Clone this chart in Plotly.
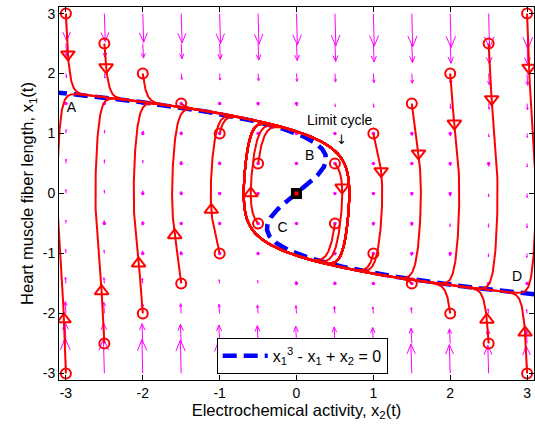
import numpy as np
import plotly.graph_objects as go

# ---- Zeeman-type heartbeat model ----------------------------------------
#   eps * dx1/dt = -(x1^3 - T*x1 + x2)
#         dx2/dt = x1 - x1_rest
EPS = 0.18
TENSION = 1.0
X1_REST = 0.0
T_END = 6.0
DT = 0.001
SAVE_EVERY = 2

# starting points lie on the two diagonals |x2| = |x1|
start_offsets = [0.5, 1.0, 1.5, 2.0, 2.5, 3.0]

# direction-field grid (same for both axes)
grid_vals = [-3.0, -2.5, -2.0, -1.5, -1.0, -0.5, 0.0, 0.5, 1.0, 1.5, 2.0, 2.5, 3.0]

# axis ticks
tick_vals = [-3, -2, -1, 0, 1, 2, 3]
tick_text = ["-3", "-2", "-1", "0", "1", "2", "3"]

# direction markers: trajectory start (x2, x1) and the x1 level where the marker sits
marker_start_x2 = [-3.0, -2.5, 3.0, 2.5, 2.0, 1.5, 1.0, 0.5, -0.5, -3.0, -2.5, -2.0, -1.5, -1.0, 3.0, 2.5]
marker_start_x1 = [3.0, 2.5, 3.0, 2.5, 2.0, 1.5, 1.0, 0.5, -0.5, -3.0, -2.5, -2.0, -1.5, -1.0, -3.0, -2.5]
marker_level_x1 = [2.38, 2.13, 2.17, 1.6, 1.17, 0.68, 0.38, 0.1, 0.0, -2.17, -1.65, -1.18, -0.7, -0.28, -2.37, -2.15]

# point labels
label_text = ["A", "B", "C", "D"]
label_x2 = [-2.93, 0.17, -0.18, 2.87]
label_x1 = [1.42, 0.62, -0.58, -1.40]

RED = "rgb(255,0,0)"
BLUE = "rgb(0,0,255)"
MAGENTA = "rgb(255,0,255)"
FONT = "Liberation Sans, Arial, sans-serif"


def rhs(x2, x1):
    return x1 - X1_REST, -(x1 ** 3 - TENSION * x1 + x2) / EPS


def integrate(x2_0, x1_0):
    x2 = np.asarray(x2_0, float).copy()
    x1 = np.asarray(x1_0, float).copy()
    out2, out1 = [x2.copy()], [x1.copy()]
    n = int(round(T_END / DT))
    for k in range(n):
        a2, a1 = rhs(x2, x1)
        b2, b1 = rhs(x2 + 0.5 * DT * a2, x1 + 0.5 * DT * a1)
        c2, c1 = rhs(x2 + 0.5 * DT * b2, x1 + 0.5 * DT * b1)
        d2, d1 = rhs(x2 + DT * c2, x1 + DT * c1)
        x2 = x2 + DT / 6.0 * (a2 + 2 * b2 + 2 * c2 + d2)
        x1 = x1 + DT / 6.0 * (a1 + 2 * b1 + 2 * c1 + d1)
        if (k + 1) % SAVE_EVERY == 0:
            out2.append(x2.copy())
            out1.append(x1.copy())
    return np.array(out2), np.array(out1)


# ---- trajectories ----------------------------------------------------------
starts = []
for s in start_offsets:
    starts += [(-s, s), (s, s), (-s, -s), (s, -s)]
s_x2 = np.array([p[0] for p in starts])
s_x1 = np.array([p[1] for p in starts])
traj_x2, traj_x1 = integrate(s_x2, s_x1)

line_x, line_y = [], []
for j in range(len(starts)):
    line_x += list(traj_x2[:, j]) + [None]
    line_y += list(traj_x1[:, j]) + [None]

# direction markers located on the computed trajectories
tri_down_x, tri_down_y, tri_up_x, tri_up_y = [], [], [], []
for sx2, sx1, lev in zip(marker_start_x2, marker_start_x1, marker_level_x1):
    j = [k for k, p in enumerate(starts) if p == (sx2, sx1)][0]
    xs, ys = traj_x2[:, j], traj_x1[:, j]
    going_down = rhs(sx2, sx1)[1] < 0
    idx = np.where(ys <= lev)[0] if going_down else np.where(ys >= lev)[0]
    i = int(idx[0])
    if rhs(xs[i], ys[i])[1] < 0:
        tri_down_x.append(xs[i]); tri_down_y.append(ys[i])
    else:
        tri_up_x.append(xs[i]); tri_up_y.append(ys[i])

# ---- direction field (MATLAB-style autoscaled quiver) -----------------------
gx, gy = np.meshgrid(np.array(grid_vals), np.array(grid_vals))
gu, gv = rhs(gx, gy)
n_side = len(grid_vals)
delx = (max(grid_vals) - min(grid_vals)) / n_side
del2 = 2 * delx ** 2
mag = np.sqrt((gu ** 2 + gv ** 2) / del2)
scale = 0.9 / mag.max()
gu = gu * scale
gv = gv * scale
alpha, beta = 0.33, 0.33
qx, qy = [], []
dot_x, dot_y = [], []
for x, y, u, v in zip(gx.ravel(), gy.ravel(), gu.ravel(), gv.ravel()):
    qx += [x, x + u, None]
    qy += [y, y + v, None]
    qx += [x + u - alpha * (u + beta * v), x + u, x + u - alpha * (u - beta * v), None]
    qy += [y + v - alpha * (v - beta * u), y + v, y + v - alpha * (v + beta * u), None]
    if np.hypot(u * 77, v * 60) < 3.0:
        dot_x.append(x); dot_y.append(y)

# ---- nullcline x1^3 - x1 + x2 = 0 ------------------------------------------
null_x1 = np.linspace(-1.72, 1.72, 400)
null_x2 = TENSION * null_x1 - null_x1 ** 3

fig = go.Figure()
fig.add_trace(go.Scatter(x=qx, y=qy, mode="lines", line=dict(color=MAGENTA, width=1),
                         hoverinfo="skip", showlegend=False))
fig.add_trace(go.Scatter(x=dot_x, y=dot_y, mode="markers",
                         marker=dict(color=MAGENTA, size=3.5, line=dict(width=0)),
                         hoverinfo="skip", showlegend=False))
fig.add_trace(go.Scatter(x=null_x2, y=null_x1, mode="lines",
                         line=dict(color=BLUE, width=4.5, dash="14px,7px"),
                         name="x<sub>1</sub><sup>3</sup> - x<sub>1</sub> + x<sub>2</sub> = 0",
                         showlegend=True))
fig.add_trace(go.Scatter(x=line_x, y=line_y, mode="lines", line=dict(color=RED, width=2),
                         hoverinfo="skip", showlegend=False))
fig.add_trace(go.Scatter(x=s_x2, y=s_x1, mode="markers",
                         marker=dict(symbol="circle-open", size=10, color=RED, line=dict(width=2, color=RED)),
                         showlegend=False))
fig.add_trace(go.Scatter(x=tri_down_x, y=tri_down_y, mode="markers",
                         marker=dict(symbol="triangle-down-open", size=12, color=RED, line=dict(width=2, color=RED)),
                         showlegend=False))
fig.add_trace(go.Scatter(x=tri_up_x, y=tri_up_y, mode="markers",
                         marker=dict(symbol="triangle-up-open", size=12, color=RED, line=dict(width=2, color=RED)),
                         showlegend=False))
# equilibrium point
fig.add_trace(go.Scatter(x=[0], y=[X1_REST], mode="markers",
                         marker=dict(symbol="square", size=11, color="black"), showlegend=False))
fig.add_trace(go.Scatter(x=[0], y=[X1_REST], mode="markers",
                         marker=dict(symbol="square", size=4, color=RED), showlegend=False))

fig.add_trace(go.Scatter(x=label_x2, y=label_x1, mode="text", text=label_text,
                         textfont=dict(family=FONT, size=14, color="black"), showlegend=False))
fig.add_annotation(x=0.56, y=1.22, text="Limit cycle", showarrow=False,
                   font=dict(family=FONT, size=14, color="black"))
fig.add_annotation(x=0.58, y=0.9, text="\u2193", showarrow=False,
                   font=dict(family="DejaVu Sans", size=13, color="black"))

axis_common = dict(showline=True, linecolor="black", linewidth=1, mirror="ticks",
                   ticks="inside", ticklen=5, tickcolor="black", showgrid=False,
                   zeroline=False, tickfont=dict(family=FONT, size=14, color="black"),
                   tickmode="array", tickvals=tick_vals, ticktext=tick_text)
fig.update_xaxes(range=[-3.09, 3.09],
                 title=dict(text="Electrochemical activity, x<sub>2</sub>(t)",
                            font=dict(family=FONT, size=16.5, color="black"), standoff=4),
                 **axis_common)
fig.update_yaxes(range=[-3.11, 3.11],
                 title=dict(text="Heart muscle fiber length, x<sub>1</sub>(t)",
                            font=dict(family=FONT, size=16.5, color="black"), standoff=4),
                 **axis_common)
fig.update_layout(
    width=535, height=429,
    margin=dict(l=59, r=1, t=7, b=49),
    paper_bgcolor="white", plot_bgcolor="white",
    legend=dict(x=0.332, y=0.113, xanchor="left", yanchor="top",
                bgcolor="white", bordercolor="black", borderwidth=1,
                itemwidth=45,
                font=dict(family=FONT, size=16, color="black")),
)
fig.write_html("out.html")
